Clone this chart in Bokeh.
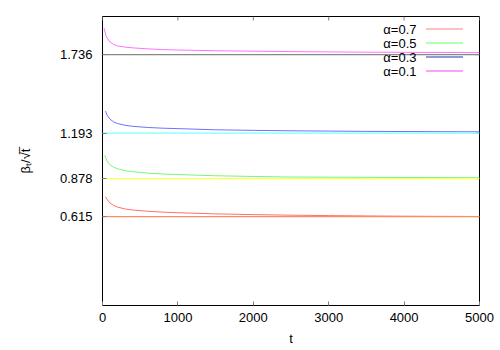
from bokeh.plotting import figure
from bokeh.models import Range1d, FixedTicker, PrintfTickFormatter, Label
from bokeh.embed import file_html
from bokeh.resources import INLINE

# ---- data ----
alphas = ["α=0.7", "α=0.5", "α=0.3", "α=0.1"]

t_a07 = [40, 60, 100, 150, 200, 300, 400, 600, 800, 1000, 1500, 2000, 2500, 3000, 3500, 4000, 4500, 5000]
v_a07 = [0.752, 0.735, 0.709, 0.692, 0.681, 0.668, 0.661, 0.652, 0.646, 0.642, 0.634, 0.629, 0.625, 0.622, 0.620, 0.618, 0.617, 0.616]

t_a05 = [30, 60, 100, 150, 200, 300, 400, 600, 800, 1000, 1500, 2000, 2500, 3000, 3500, 4000, 4500, 5000]
v_a05 = [1.040, 1.000, 0.974, 0.956, 0.946, 0.933, 0.926, 0.916, 0.910, 0.906, 0.898, 0.893, 0.889, 0.888, 0.887, 0.886, 0.885, 0.884]

t_a03 = [40, 60, 100, 150, 200, 300, 400, 600, 800, 1000, 1500, 2000, 2500, 3000, 3500, 4000, 4500, 5000]
v_a03 = [1.345, 1.318, 1.289, 1.270, 1.259, 1.247, 1.240, 1.232, 1.227, 1.224, 1.216, 1.212, 1.209, 1.207, 1.205, 1.204, 1.203, 1.202]

t_a01 = [20, 50, 100, 150, 200, 300, 400, 600, 800, 1000, 1500, 2000, 2500, 3000, 3500, 4000, 4500, 5000]
v_a01 = [1.920, 1.860, 1.823, 1.806, 1.797, 1.788, 1.783, 1.776, 1.771, 1.768, 1.763, 1.760, 1.757, 1.755, 1.753, 1.752, 1.751, 1.750]

# asymptotic constants (also the y tick values)
limits = [0.615, 0.878, 1.193, 1.736]
x_ticks = [0, 1000, 2000, 3000, 4000, 5000]

# ---- styling / layout ----
curve_colors = ["#ff7070", "#77f777", "#7070ff", "#ff70ff"]
sample_colors = ["#ffaaaa", "#99ff99", "#6878c8", "#ff80ff"]
limit_colors = ["#ff8c60", "#ffff50", "#77ffff", "#888888"]
TICK_COLOR = "#808080"
FONT = "Liberation Sans"

W, H = 500, 350
BL, BR, BT, BB = 102, 21, 16, 45
FRAME_W = W - BL - BR
FRAME_H = H - BT - BB
XMIN, XMAX, YMIN, YMAX = 0, 5000, 0, 2
DX = (XMAX - XMIN) / FRAME_W   # data units per pixel
DY = (YMAX - YMIN) / FRAME_H
TICK_LEN = 4

p = figure(width=W, height=H, output_backend="svg", toolbar_location=None,
           x_range=Range1d(XMIN, XMAX), y_range=Range1d(YMIN, YMAX),
           min_border_left=BL, min_border_right=BR, min_border_top=BT, min_border_bottom=BB,
           x_axis_label="t", y_axis_label="βₜ/√t̅")
p.background_fill_color = "white"
p.border_fill_color = "white"
p.outline_line_color = "black"
p.outline_line_width = 1
p.grid.visible = False

for ax in (p.xaxis[0], p.yaxis[0]):
    ax.axis_line_color = None
    ax.major_tick_in = TICK_LEN
    ax.major_tick_out = 0
    ax.minor_tick_in = 0
    ax.minor_tick_out = 0
    ax.major_tick_line_color = TICK_COLOR
    ax.major_label_text_font = FONT
    ax.major_label_text_font_size = "13px"
    ax.major_label_text_color = "black"
    ax.axis_label_text_font = FONT
    ax.axis_label_text_font_style = "normal"
    ax.axis_label_text_font_size = "13px"
    ax.axis_label_text_color = "black"

xax = p.xaxis[0]
xax.ticker = FixedTicker(ticks=x_ticks)
xax.major_label_standoff = 7
xax.axis_label_standoff = 6

yax = p.yaxis[0]
yax.ticker = FixedTicker(ticks=limits)
yax.formatter = PrintfTickFormatter(format="%.3f")
yax.major_label_standoff = 10
yax.axis_label_standoff = 24

# mirrored tick marks on top and right borders (gnuplot style)
p.segment(x0=x_ticks, y0=[YMAX] * len(x_ticks), x1=x_ticks, y1=[YMAX - TICK_LEN * DY] * len(x_ticks),
          line_color=TICK_COLOR, line_width=1)
p.segment(x0=[XMAX] * len(limits), y0=limits, x1=[XMAX - TICK_LEN * DX] * len(limits), y1=limits,
          line_color=TICK_COLOR, line_width=1)

# curves
series = [(t_a07, v_a07), (t_a05, v_a05), (t_a03, v_a03), (t_a01, v_a01)]
for (tt, vv), c in zip(series, curve_colors):
    p.line(tt, vv, line_color=c, line_width=1)

# key (gnuplot style: text right-aligned, sample on the right)
row0, row_step = 12.5, 14
text_right = XMIN + 314 * DX
s0, s1 = XMIN + 323.5 * DX, XMIN + 360.5 * DX
for i, (lab, sc) in enumerate(zip(alphas, sample_colors)):
    yy = YMAX - (row0 + i * row_step) * DY
    p.add_layout(Label(x=text_right, y=yy, text=lab, text_align="right", text_baseline="middle",
                       text_font=FONT, text_font_size="13px", text_color="black"))
    p.segment(x0=[s0], y0=[yy], x1=[s1], y1=[yy], line_color=sc, line_width=1.5)

# asymptote lines
for lim, c in zip(limits, limit_colors):
    p.line([XMIN, XMAX], [lim, lim], line_color=c, line_width=1.2)

open("out.html", "w").write(file_html(p, INLINE))
